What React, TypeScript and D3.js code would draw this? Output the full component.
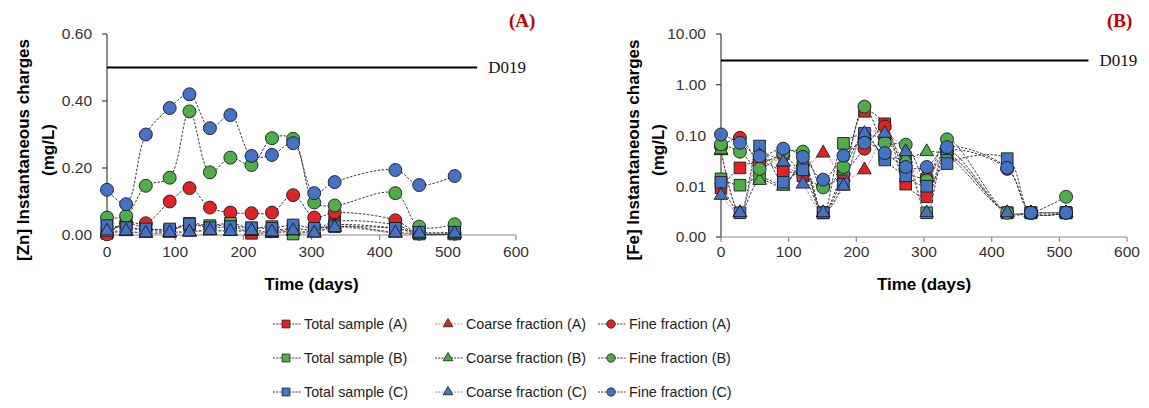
import React from "react";
import * as d3 from "d3";

const width = 1149;
const height = 408;

const red = "#E02424";
const green = "#50AE48";
const blue = "#4472C4";

// sampling days
const days = [0, 28, 57, 92, 121, 151, 181, 212, 242, 273, 304, 334, 423, 458, 510];
const xTicks = [0, 100, 200, 300, 400, 500, 600];

// [Zn] (mg/L)
const znTotalA = [0.005, 0.035, 0.02, 0.015, 0.03, 0.025, 0.03, 0.005, 0.01, 0.02, 0.015, 0.04, 0.03, 0.005, 0.005];
const znCoarseA = [0.005, 0.01, 0.005, 0.005, 0.008, 0.012, 0.01, 0.01, 0.005, 0.01, 0.005, 0.03, 0.005, 0.003, 0.003];
const znFineA = [0.002, 0.037, 0.035, 0.1, 0.14, 0.082, 0.067, 0.065, 0.067, 0.119, 0.052, 0.067, 0.044, 0.004, 0.004];
const znTotalB = [0.025, 0.02, 0.015, 0.012, 0.035, 0.028, 0.035, 0.02, 0.025, 0.003, 0.015, 0.03, 0.02, 0.003, 0.003];
const znCoarseB = [0.008, 0.01, 0.005, 0.008, 0.01, 0.015, 0.012, 0.015, 0.008, 0.012, 0.008, 0.025, 0.008, 0.003, 0.003];
const znFineB = [0.052, 0.057, 0.147, 0.171, 0.369, 0.187, 0.231, 0.209, 0.289, 0.287, 0.097, 0.088, 0.125, 0.025, 0.032];
const znTotalC = [0.028, 0.022, 0.018, 0.018, 0.033, 0.022, 0.025, 0.022, 0.02, 0.03, 0.02, 0.025, 0.02, 0.008, 0.008];
const znCoarseC = [0.012, 0.012, 0.006, 0.007, 0.009, 0.013, 0.011, 0.013, 0.009, 0.013, 0.006, 0.022, 0.006, 0.005, 0.005];
const znFineC = [0.135, 0.092, 0.3, 0.379, 0.42, 0.319, 0.358, 0.236, 0.239, 0.274, 0.125, 0.158, 0.194, 0.149, 0.176];
const znTicks = [0, 0.2, 0.4, 0.6];
const znLimit = 0.5;

// [Fe] (mg/L), log axis
const feTotalA = [0.0093, 0.023, 0.03, 0.02, 0.016, 0.003, 0.017, 0.3, 0.17, 0.011, 0.0062, 0.05, 0.003, 0.003, 0.003];
const feCoarseA = [0.05, 0.003, 0.03, 0.03, 0.02, 0.045, 0.015, 0.021, 0.1, 0.03, 0.015, 0.04, 0.003, 0.003, 0.003];
const feFineA = [0.06, 0.09, 0.03, 0.04, 0.017, 0.01, 0.018, 0.055, 0.15, 0.02, 0.015, 0.05, 0.022, 0.003, 0.003];
const feTotalB = [0.014, 0.0105, 0.015, 0.011, 0.025, 0.003, 0.07, 0.1, 0.04, 0.03, 0.003, 0.04, 0.003, 0.003, 0.003];
const feCoarseB = [0.052, 0.003, 0.013, 0.01, 0.03, 0.003, 0.02, 0.1, 0.08, 0.035, 0.048, 0.04, 0.003, 0.003, 0.003];
const feFineB = [0.067, 0.048, 0.022, 0.045, 0.048, 0.0095, 0.024, 0.37, 0.072, 0.066, 0.013, 0.084, 0.003, 0.003, 0.0062];
const feTotalC = [0.012, 0.003, 0.062, 0.012, 0.021, 0.003, 0.011, 0.11, 0.033, 0.016, 0.01, 0.028, 0.035, 0.003, 0.003];
const feCoarseC = [0.0066, 0.003, 0.04, 0.03, 0.011, 0.003, 0.01, 0.11, 0.11, 0.048, 0.003, 0.05, 0.003, 0.003, 0.003];
const feFineC = [0.105, 0.072, 0.039, 0.055, 0.038, 0.0135, 0.04, 0.072, 0.045, 0.024, 0.024, 0.059, 0.023, 0.003, 0.003];
const feTicks = [0.001, 0.01, 0.1, 1, 10];
const feLimit = 3;

type Shape = "square" | "triangle" | "circle";

const series: { name: string; color: string; shape: Shape; line: string; zn: number[]; fe: number[] }[] = [
  { name: "Total sample (A)", color: red, shape: "square", line: "#3a3a3a", zn: znTotalA, fe: feTotalA },
  { name: "Coarse fraction (A)", color: red, shape: "triangle", line: "#d08a8a", zn: znCoarseA, fe: feCoarseA },
  { name: "Fine fraction (A)", color: red, shape: "circle", line: "#3a3a3a", zn: znFineA, fe: feFineA },
  { name: "Total sample (B)", color: green, shape: "square", line: "#3a3a3a", zn: znTotalB, fe: feTotalB },
  { name: "Coarse fraction (B)", color: green, shape: "triangle", line: "#3a3a3a", zn: znCoarseB, fe: feCoarseB },
  { name: "Fine fraction (B)", color: green, shape: "circle", line: "#3a3a3a", zn: znFineB, fe: feFineB },
  { name: "Total sample (C)", color: blue, shape: "square", line: "#3a3a3a", zn: znTotalC, fe: feTotalC },
  { name: "Coarse fraction (C)", color: blue, shape: "triangle", line: "#8a86c8", zn: znCoarseC, fe: feCoarseC },
  { name: "Fine fraction (C)", color: blue, shape: "circle", line: "#3a3a3a", zn: znFineC, fe: feFineC },
];

const symbolType = { square: d3.symbolSquare, triangle: d3.symbolTriangle, circle: d3.symbolCircle };
const bigSize = { square: 135, triangle: 80, circle: 132 };
const smallSize = { square: 62, triangle: 40, circle: 55 };

const sans = "'Liberation Sans', Arial, sans-serif";
const serif = "'Liberation Serif', 'Times New Roman', serif";

type PanelProps = {
  x0: number;
  x1: number;
  y: d3.ScaleContinuousNumeric<number, number>;
  ticks: number[];
  limit: number;
  field: "zn" | "fe";
  title: string;
  titleX: [number, number];
  tag: string;
  tagX: number;
};

const Panel = ({ x0, x1, y, ticks, limit, field, title, titleX, tag, tagX }: PanelProps) => {
  const x = d3.scaleLinear().domain([0, 600]).range([x0, x1]);
  const [yBottom, yTop] = y.range();
  const fmt = d3.format(".2f");
  const titleY = 150;

  return (
    <g>
      {/* y axis */}
      <line x1={x0} x2={x0} y1={yTop} y2={yBottom} stroke="#404040" strokeWidth={1.2} />
      {ticks.map((t) => (
        <g key={t}>
          <line x1={x0 - 5} x2={x0} y1={y(t)} y2={y(t)} stroke="#404040" strokeWidth={1.2} />
          <text x={x0 - 15} y={y(t)} dy="0.35em" textAnchor="end" fontSize={15.5} fill="#333" fontFamily={sans}>
            {fmt(t)}
          </text>
        </g>
      ))}
      {/* x axis */}
      <line x1={x0} x2={x1} y1={yBottom} y2={yBottom} stroke="#8c8c8c" strokeWidth={1.2} />
      {xTicks.map((t) => (
        <g key={t}>
          <line x1={x(t)} x2={x(t)} y1={yBottom} y2={yBottom + 5} stroke="#8c8c8c" strokeWidth={1.2} />
          <text x={x(t)} y={257} textAnchor="middle" fontSize={15.5} fill="#333" fontFamily={sans}>
            {t}
          </text>
        </g>
      ))}
      <text x={(x0 + x1) / 2} y={290} textAnchor="middle" fontSize={17} fontWeight="bold" fontFamily={sans}>
        Time (days)
      </text>
      <text transform={`translate(${titleX[0]},${titleY}) rotate(-90)`} dy="0.35em" textAnchor="middle" fontSize={17} fontWeight="bold" fontFamily={sans}>
        {title}
      </text>
      <text transform={`translate(${titleX[1]},${titleY}) rotate(-90)`} dy="0.35em" textAnchor="middle" fontSize={17} fontWeight="bold" fontFamily={sans}>
        (mg/L)
      </text>

      {/* guideline value */}
      <line x1={x(0)} x2={x(543)} y1={y(limit)} y2={y(limit)} stroke="#000" strokeWidth={2} />
      <text x={x(543) + 11} y={y(limit)} dy="0.35em" fontSize={17} fontFamily={serif} fill="#111">
        D019
      </text>
      <text x={tagX} y={27} fontSize={19} fontWeight="bold" fontFamily={serif} fill="#C00000">
        {tag}
      </text>

      {/* series */}
      {series.map((s) => {
        const vals = s[field];
        const path = d3
          .line<number>()
          .x((_, i) => x(days[i]))
          .y((d) => y(d))
          .curve(d3.curveCatmullRom.alpha(0.5))(vals) || "";
        const sym = d3.symbol().type(symbolType[s.shape]).size(bigSize[s.shape])() || "";
        return (
          <g key={s.name}>
            <path d={path} fill="none" stroke={s.line} strokeWidth={1} strokeDasharray="2.5,1.5" />
            {vals.map((v, i) => (
              <path key={i} d={sym} transform={`translate(${x(days[i])},${y(v)})`} fill={s.color} stroke="#1a1a1a" strokeWidth={0.9} />
            ))}
          </g>
        );
      })}
    </g>
  );
};

const legendCols = [273, 435, 598];
const legendRows = [324, 358, 392];

const Legend = () => (
  <g>
    {series.map((s, i) => {
      const cx = legendCols[i % 3];
      const cy = legendRows[Math.floor(i / 3)];
      const sym = d3.symbol().type(symbolType[s.shape]).size(smallSize[s.shape])() || "";
      return (
        <g key={s.name}>
          <line x1={cx} x2={cx + 28} y1={cy} y2={cy} stroke={s.line} strokeWidth={1} strokeDasharray="2,1.2" />
          <path d={sym} transform={`translate(${cx + 13},${cy})`} fill={s.color} stroke="#1a1a1a" strokeWidth={0.8} />
          <text x={cx + 31} y={cy} dy="0.35em" fontSize={14.3} fill="#222" fontFamily={sans}>
            {s.name}
          </text>
        </g>
      );
    })}
  </g>
);

export default function App() {
  const yZn = d3.scaleLinear().domain([0, 0.6]).range([235, 34]);
  const yFe = d3.scaleLog().domain([0.001, 10]).range([237, 34]);
  return (
    <svg width={width} height={height} style={{ position: "absolute", left: 0, top: 0, background: "#fff" }}>
      <rect width={width} height={height} fill="#fff" />
      <Panel x0={107} x1={516} y={yZn} ticks={znTicks} limit={znLimit} field="zn" title="[Zn] Instantaneous charges" titleX={[23, 48]} tag="(A)" tagX={509} />
      <Panel x0={721} x1={1127} y={yFe} ticks={feTicks} limit={feLimit} field="fe" title="[Fe] Instantaneous charges" titleX={[633, 658]} tag="(B)" tagX={1107} />
      <Legend />
    </svg>
  );
}
